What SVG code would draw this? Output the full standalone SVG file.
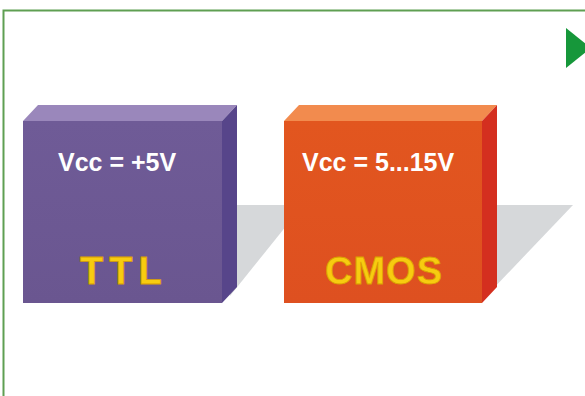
<svg xmlns="http://www.w3.org/2000/svg" width="585" height="396" viewBox="0 0 585 396">
<defs>
<style>
.vcc{font-family:"Liberation Sans",Arial,sans-serif;font-weight:bold;font-size:25px;fill:#ffffff}
.name{font-family:"Liberation Sans",Arial,sans-serif;font-weight:bold;font-size:38px;fill:#f7cc10;stroke:#d9a000;stroke-width:0.8}
.shadow{fill:#d6d8da}
</style>
<linearGradient id="pf" x1="0" y1="0" x2="0" y2="1">
<stop offset="0" stop-color="#6f5b97"/><stop offset="1" stop-color="#6a5690"/>
</linearGradient>
<linearGradient id="of" x1="0" y1="0" x2="0" y2="1">
<stop offset="0" stop-color="#e2561f"/><stop offset="1" stop-color="#de5020"/>
</linearGradient>
</defs>
<rect width="585" height="396" fill="#ffffff"/>
<path d="M3.5 396 V10.5 H585" fill="none" stroke="#5f9f52" stroke-width="2"/>
<polygon points="566,28 566,68 591,48" fill="#16973a"/>
<g id="shadows">
<polygon class="shadow" points="230,205 303,205 230,296"/>
<polygon class="shadow" points="490,205 573,205 490,292"/>
</g>
<g id="ttl">
<polygon points="23,121 38,105 237,105 222,121" fill="#9a87bb"/>
<polygon points="222,121 237,105 237,287 222,303" fill="#57458a"/>
<rect x="23" y="121" width="199" height="182" fill="url(#pf)"/>
<text class="vcc" x="58" y="171">Vcc = +5V</text>
<text class="name" x="80" y="284" letter-spacing="6">TTL</text>
</g>
<g id="cmos">
<polygon points="284,121 299,105 497,105 482,121" fill="#f28b4e"/>
<polygon points="482,121 497,105 497,287 482,303" fill="#d42f1f"/>
<rect x="284" y="121" width="198" height="182" fill="url(#of)"/>
<text class="vcc" x="302" y="171">Vcc = 5...15V</text>
<text class="name" x="325" y="284" letter-spacing="1">CMOS</text>
</g>
</svg>
